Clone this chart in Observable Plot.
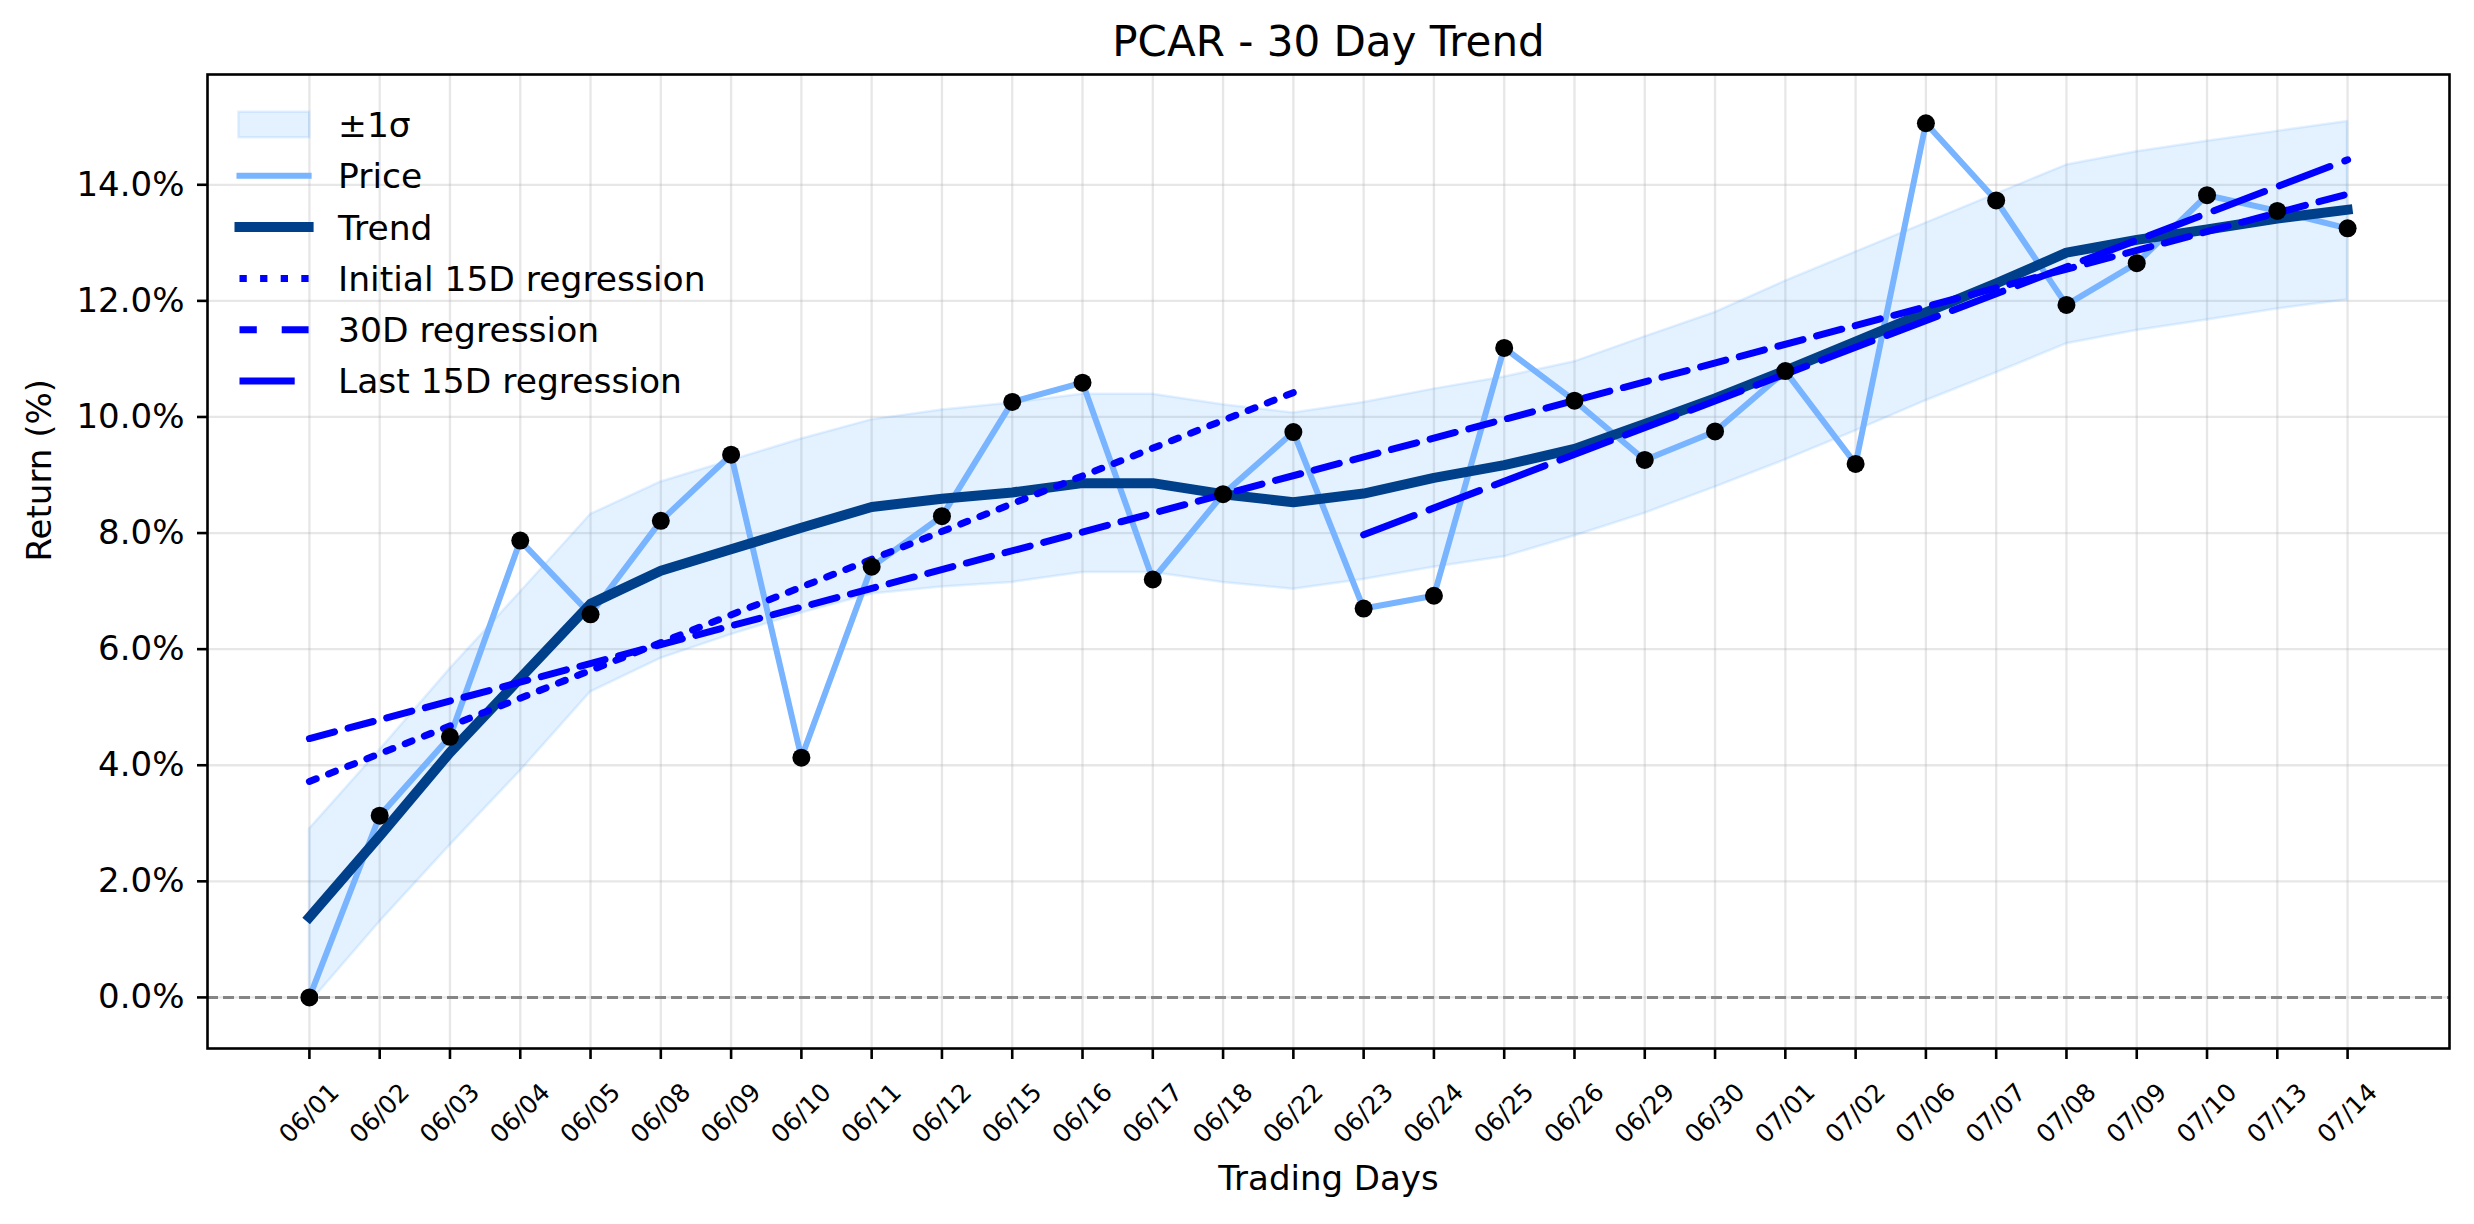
<!DOCTYPE html>
<html>
<head>
<meta charset="utf-8">
<script src="https://cdn.jsdelivr.net/npm/d3@7"></script>
<script src="https://cdn.jsdelivr.net/npm/@observablehq/plot@0.6"></script>
<style>
  html, body { margin: 0; padding: 0; background: #ffffff; }
  #chart svg { display: block; }
</style>
</head>
<body>
<div id="chart"></div>
<script>
// ---- data ----
const dates = ["06/01","06/02","06/03","06/04","06/05","06/08","06/09","06/10","06/11","06/12",
               "06/15","06/16","06/17","06/18","06/22","06/23","06/24","06/25","06/26","06/29",
               "06/30","07/01","07/02","07/06","07/07","07/08","07/09","07/10","07/13","07/14"];
const price = [0.00, 3.13, 4.49, 7.87, 6.60, 8.21, 9.35, 4.13, 7.42, 8.29,
               10.26, 10.59, 7.20, 8.67, 9.74, 6.70, 6.92, 11.19, 10.28, 9.26,
               9.75, 10.79, 9.19, 15.06, 13.73, 11.93, 12.65, 13.82, 13.55, 13.25];
const trend = [1.38, 2.78, 4.22, 5.50, 6.78, 7.35, 7.72, 8.09, 8.45, 8.59,
               8.70, 8.86, 8.86, 8.67, 8.53, 8.68, 8.95, 9.17, 9.45, 9.88,
               10.32, 10.80, 11.30, 11.80, 12.30, 12.83, 13.05, 13.23, 13.42, 13.57];
const sigmaUpper = [2.90, 4.26, 5.66, 6.98, 8.32, 8.88, 9.25, 9.62, 9.95, 10.12,
                    10.24, 10.39, 10.39, 10.21, 10.07, 10.25, 10.48, 10.69, 10.95, 11.38,
                    11.80, 12.34, 12.84, 13.34, 13.84, 14.34, 14.57, 14.75, 14.92, 15.09];
const sigmaLower = [-0.10, 1.30, 2.62, 3.90, 5.26, 5.84, 6.25, 6.62, 6.95, 7.07,
                    7.15, 7.32, 7.32, 7.15, 7.03, 7.20, 7.41, 7.59, 7.95, 8.34,
                    8.79, 9.26, 9.76, 10.28, 10.76, 11.26, 11.49, 11.67, 11.86, 12.02];
const regInitial = [{i: 0, v: 3.72}, {i: 14, v: 10.42}];
const reg30 = [{i: 0, v: 4.46}, {i: 29, v: 13.84}];
const regLast = [{i: 15, v: 7.97}, {i: 29, v: 14.43}];
const yTicks = [0, 2, 4, 6, 8, 10, 12, 14];
const titleText = "PCAR - 30 Day Trend";
const xLabel = "Trading Days";
const yLabel = "Return (%)";
const legendLabels = ["±1σ", "Price", "Trend", "Initial 15D regression", "30D regression", "Last 15D regression"];

// ---- styles ----
const font = "'DejaVu Sans', sans-serif";
const C = {
  band: "#4da3ff", price: "#78b4ff", trend: "#003f8a", reg: "#0000ff",
  grid: "#b0b0b0", zero: "#858585"
};
const dashInitial = "7.3,13.3";
const dash30 = "26,14";
const dashLast = "54,16";

const idx = dates.map((d, i) => i);
const W = 2474, H = 1224, mL = 207, mR = 25, mT = 74, mB = 176;

const chart = Plot.plot({
  width: W, height: H,
  marginLeft: mL, marginRight: mR, marginTop: mT, marginBottom: mB,
  style: { fontFamily: font, background: "#ffffff", color: "#000000", overflow: "visible" },
  x: { domain: [-1.45, 30.45], axis: null },
  y: { domain: [-0.88, 15.9] },
  marks: [
    Plot.gridX(idx, { x: i => i, stroke: C.grid, strokeOpacity: 0.3, strokeWidth: 2.3 }),
    Plot.gridY(yTicks, { y: d => d, stroke: C.grid, strokeOpacity: 0.3, strokeWidth: 2.3 }),
    Plot.areaY(idx, { x: i => i, y1: i => sigmaLower[i], y2: i => sigmaUpper[i],
      fill: C.band, fillOpacity: 0.15, stroke: C.band, strokeOpacity: 0.15, strokeWidth: 2.5 }),
    Plot.ruleY([0], { stroke: C.zero, strokeWidth: 3, strokeDasharray: "11,5" }),
    Plot.line(idx, { x: i => i, y: i => price[i], stroke: C.price, strokeWidth: 6,
      strokeLinecap: "square", strokeLinejoin: "round" }),
    Plot.line(idx, { x: i => i, y: i => trend[i], stroke: C.trend, strokeWidth: 10,
      strokeLinecap: "square", strokeLinejoin: "round" }),
    Plot.line(regInitial, { x: "i", y: "v", stroke: C.reg, strokeWidth: 7, strokeDasharray: dashInitial }),
    Plot.line(reg30, { x: "i", y: "v", stroke: C.reg, strokeWidth: 7, strokeDasharray: dash30 }),
    Plot.line(regLast, { x: "i", y: "v", stroke: C.reg, strokeWidth: 7, strokeDasharray: dashLast }),
    Plot.dot(idx, { x: i => i, y: i => price[i], r: 9, fill: "#000000", stroke: "none" }),
    Plot.frame({ stroke: "#000000", strokeWidth: 2.6 }),
    // x ticks (labels drawn separately, centered and rotated like the reference)
    Plot.ruleX(idx, { x: i => i, stroke: "#000000", strokeWidth: 2.6, insetTop: H - mT - mB, insetBottom: -11 }),
    Plot.text(idx, { x: i => i, text: i => dates[i], frameAnchor: "bottom", dy: 65, rotate: -45,
      fontSize: 25, textAnchor: "middle", lineAnchor: "middle", fill: "#000000" }),
    Plot.axisY({ ticks: yTicks, tickSize: 10, tickPadding: 13, tickFormat: d => d.toFixed(1) + "%",
      fontSize: 34, strokeWidth: 2.6, label: null }),
    Plot.text([xLabel], { text: d => d, frameAnchor: "bottom", dy: 131, fontSize: 34,
      lineAnchor: "middle", fill: "#000000" }),
    Plot.text([yLabel], { text: d => d, frameAnchor: "left", dx: -167, rotate: -90, fontSize: 34,
      lineAnchor: "middle", fill: "#000000" }),
    Plot.text([titleText], { text: d => d, frameAnchor: "top", dy: -19, fontSize: 42,
      lineAnchor: "bottom", fill: "#000000" })
  ]
});

// ---- legend (upper left, no frame) ----
const svg = d3.select(chart);
const lg = svg.append("g").attr("font-family", font).attr("font-size", 34.5).attr("text-anchor", "start");
const x0 = 239.5, x1 = 308.6, tx = 338, y0 = 124.5, step = 51.3;
// ±1σ patch
lg.append("rect").attr("x", 238.4).attr("y", 111.7).attr("width", 70.9).attr("height", 25.6)
  .attr("fill", C.band).attr("fill-opacity", 0.15)
  .attr("stroke", C.band).attr("stroke-opacity", 0.15).attr("stroke-width", 2.5);
const handles = [
  null,
  { stroke: C.price, w: 6, cap: "square", dash: null },
  { stroke: C.trend, w: 10, cap: "square", dash: null },
  { stroke: C.reg, w: 7, cap: "butt", dash: dashInitial },
  { stroke: C.reg, w: 7, cap: "butt", dash: "17.3,24.9,27,100" },
  { stroke: C.reg, w: 7, cap: "butt", dash: "55.2,100" }
];
legendLabels.forEach((lab, k) => {
  const y = y0 + k * step;
  const h = handles[k];
  if (h) {
    const ln = lg.append("line").attr("x1", x0).attr("x2", x1).attr("y1", y).attr("y2", y)
      .attr("stroke", h.stroke).attr("stroke-width", h.w).attr("stroke-linecap", h.cap);
    if (h.dash) ln.attr("stroke-dasharray", h.dash);
  }
  lg.append("text").attr("x", tx).attr("y", y).attr("dy", "0.36em")
    .attr("text-anchor", "start").attr("fill", "#000000").text(lab);
});

document.getElementById("chart").appendChild(chart);
</script>
</body>
</html>
